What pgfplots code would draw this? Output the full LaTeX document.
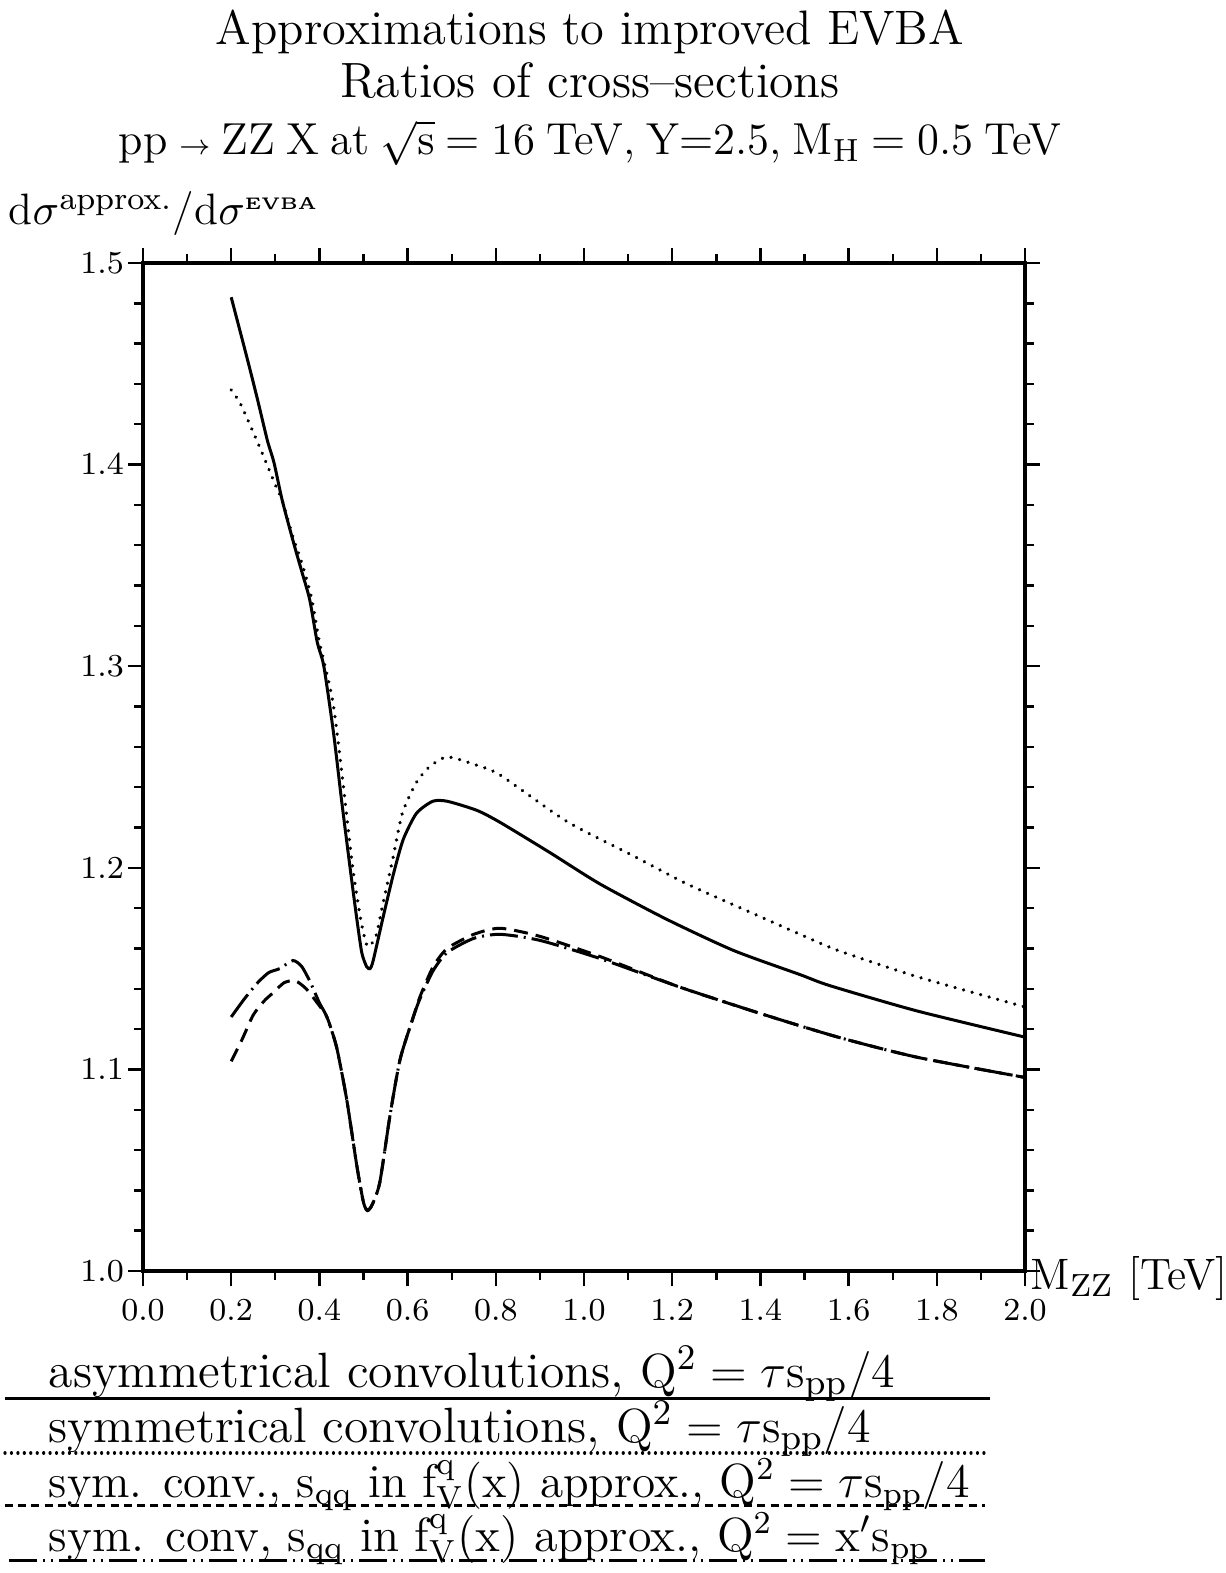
\documentclass[border=0pt]{standalone}
\usepackage{pgfplots}
\pgfplotsset{compat=1.18}
\begin{document}
\begin{tikzpicture}
\useasboundingbox (-35.75pt,-75.5pt) rectangle (270.5pt,317.75pt);
\begin{axis}[
  at={(0,0)}, anchor=south west,
  scale only axis, width=220.5pt, height=252pt,
  xmin=0, xmax=2.0, ymin=1.0, ymax=1.5,
  xtick distance=0.2, minor x tick num=1,
  ytick distance=0.1, minor y tick num=4,
  tick align=outside,
  major tick length=3.75pt, minor tick length=2.25pt,
  tick style={line width=0.6pt, black},
  axis line style={line width=0.8pt},
  tick label style={font=\fontsize{8}{9}\selectfont},
  x tick label style={/pgf/number format/.cd, fixed, fixed zerofill, precision=1},
  y tick label style={xshift=2.5pt, /pgf/number format/.cd, fixed, fixed zerofill, precision=1},
  clip=false,
]
% asymmetrical convolutions (solid)
\addplot[black, line width=0.75pt, smooth, tension=0.4] coordinates {
(0.200,1.483) (0.237,1.452) (0.260,1.432) (0.282,1.412) (0.297,1.401)
(0.316,1.382) (0.343,1.360) (0.360,1.347) (0.378,1.333) (0.395,1.312)
(0.410,1.300) (0.432,1.267) (0.450,1.234) (0.469,1.201) (0.484,1.176)
(0.496,1.158) (0.507,1.151) (0.515,1.150) (0.522,1.154) (0.545,1.176)
(0.568,1.197) (0.590,1.214) (0.620,1.227) (0.657,1.233) (0.690,1.233)
(0.757,1.2285) (0.810,1.2225) (0.923,1.2075) (1.036,1.192) (1.187,1.1745)
(1.339,1.159) (1.490,1.147) (1.558,1.1415) (1.755,1.129) (2.000,1.116)
};
% symmetrical convolutions (dotted)
\addplot[black, line width=0.9pt, line cap=round, dash pattern=on 0.01pt off 2.2pt, smooth, tension=0.4] coordinates {
(0.200,1.437) (0.219,1.431) (0.238,1.422) (0.260,1.411) (0.283,1.399)
(0.302,1.389) (0.316,1.382) (0.340,1.364) (0.362,1.350) (0.383,1.333)
(0.400,1.312) (0.430,1.283) (0.452,1.245) (0.475,1.201) (0.494,1.174)
(0.509,1.161) (0.528,1.166) (0.543,1.181) (0.566,1.204) (0.588,1.227)
(0.619,1.242) (0.649,1.250) (0.690,1.255) (0.755,1.251) (0.810,1.246)
(0.961,1.223) (1.111,1.206) (1.215,1.194) (1.263,1.189) (1.397,1.176)
(1.490,1.167) (1.576,1.159) (1.755,1.146) (2.000,1.131)
};
% sym. conv., s_qq in f approx., Q^2 = tau s/4 (dashed)
\addplot[black, line width=0.75pt, dash pattern=on 3.5pt off 2pt, smooth, tension=0.4] coordinates {
(0.200,1.104) (0.225,1.115) (0.250,1.127) (0.275,1.134) (0.295,1.138)
(0.320,1.143) (0.345,1.144) (0.370,1.140) (0.395,1.133) (0.417,1.126)
(0.439,1.111) (0.462,1.085) (0.485,1.052) (0.500,1.034) (0.509,1.030)
(0.520,1.033) (0.537,1.044) (0.560,1.077) (0.583,1.105) (0.613,1.126)
(0.628,1.136) (0.658,1.151) (0.690,1.160) (0.750,1.167) (0.810,1.170)
(0.900,1.166) (1.036,1.156) (1.215,1.141) (1.396,1.128) (1.576,1.116)
(1.756,1.106) (2.000,1.096)
};
% sym. conv, s_qq in f approx., Q^2 = x' s (dash-dot)
\addplot[black, line width=0.75pt, dash pattern=on 7pt off 1.5pt on 0.5pt off 1.5pt, smooth, tension=0.4] coordinates {
(0.200,1.126) (0.230,1.135) (0.260,1.143) (0.285,1.148) (0.310,1.150)
(0.340,1.154) (0.360,1.151) (0.380,1.143) (0.400,1.133) (0.417,1.126)
(0.439,1.111) (0.462,1.085) (0.485,1.052) (0.500,1.034) (0.509,1.030)
(0.520,1.033) (0.537,1.044) (0.560,1.077) (0.583,1.105) (0.613,1.126)
(0.628,1.135) (0.658,1.149) (0.690,1.158) (0.750,1.165) (0.810,1.167)
(0.900,1.164) (1.036,1.155) (1.215,1.141) (1.396,1.128) (1.576,1.116)
(1.756,1.106) (2.000,1.096)
};
\end{axis}
% titles
\node[anchor=base, inner sep=0pt, font=\fontsize{12.1}{14}\selectfont] at (111.75pt,306.5pt) {Approximations to improved EVBA};
\node[anchor=base, inner sep=0pt, font=\fontsize{12.4}{14}\selectfont] at (111.75pt,293.25pt) {Ratios of cross--sections};
\node[anchor=base, inner sep=0pt, font=\fontsize{11.2}{13}\selectfont] at (111.75pt,279pt) {\spaceskip=0.25em plus 0.1em minus 0.05em pp {\fontsize{7}{8}\selectfont$\rightarrow$} ZZ X at $\sqrt{\mathrm{s}}$ = 16 TeV, Y=2.5, M$_{\mathrm{H}}$ = 0.5 TeV};
% axis labels
\node[anchor=base west, inner sep=0pt, font=\fontsize{11}{13}\selectfont] at (-33.75pt,261.5pt) {d$\sigma^{\mathrm{approx.}}$/d$\sigma^{\mbox{\fontsize{4.2}{5}\selectfont\bfseries EVBA}}$};
\node[anchor=base west, inner sep=0pt, font=\fontsize{11}{13}\selectfont] at (221.75pt,-4.75pt) {M$_{\mathrm{ZZ}}$ [TeV]};
% legend
\draw[line width=0.75pt] (-34.5pt,-31.75pt) -- (211.75pt,-31.75pt);
\draw[line width=0.8pt, line cap=round, dash pattern=on 0.01pt off 1.6pt] (-34.5pt,-45.5pt) -- (210.5pt,-45.5pt);
\draw[line width=0.75pt, dash pattern=on 2pt off 1.3pt] (-34.5pt,-58.5pt) -- (210.5pt,-58.5pt);
\draw[line width=0.75pt, dash pattern=on 7pt off 1.5pt on 0.5pt off 1.5pt on 0.5pt off 1.5pt] (-33.5pt,-72.25pt) -- (210.5pt,-72.25pt);
\node[inner sep=0pt, anchor=base west, font=\fontsize{12.4}{14}\selectfont] at (-23.75pt,-29pt) {asymmetrical convolutions, $\mathrm{Q}^2 = \tau\mathrm{s}_{\mathrm{pp}}/4$};
\node[inner sep=0pt, anchor=base west, font=\fontsize{12.4}{14}\selectfont] at (-23.75pt,-42.75pt) {symmetrical convolutions, $\mathrm{Q}^2 = \tau\mathrm{s}_{\mathrm{pp}}/4$};
\node[inner sep=0pt, anchor=base west, font=\fontsize{11.8}{14}\selectfont] at (-23.75pt,-56.5pt) {sym. conv., s$_{\mathrm{qq}}$ in f$^{\mathrm{q}}_{\mathrm{V}}$(x) approx., $\mathrm{Q}^2 = \tau\mathrm{s}_{\mathrm{pp}}/4$};
\node[inner sep=0pt, anchor=base west, font=\fontsize{12}{14}\selectfont] at (-23.75pt,-70pt) {sym. conv, s$_{\mathrm{qq}}$ in f$^{\mathrm{q}}_{\mathrm{V}}$(x) approx., $\mathrm{Q}^2 = \mathrm{x}'\mathrm{s}_{\mathrm{pp}}$};
\end{tikzpicture}
\end{document}
